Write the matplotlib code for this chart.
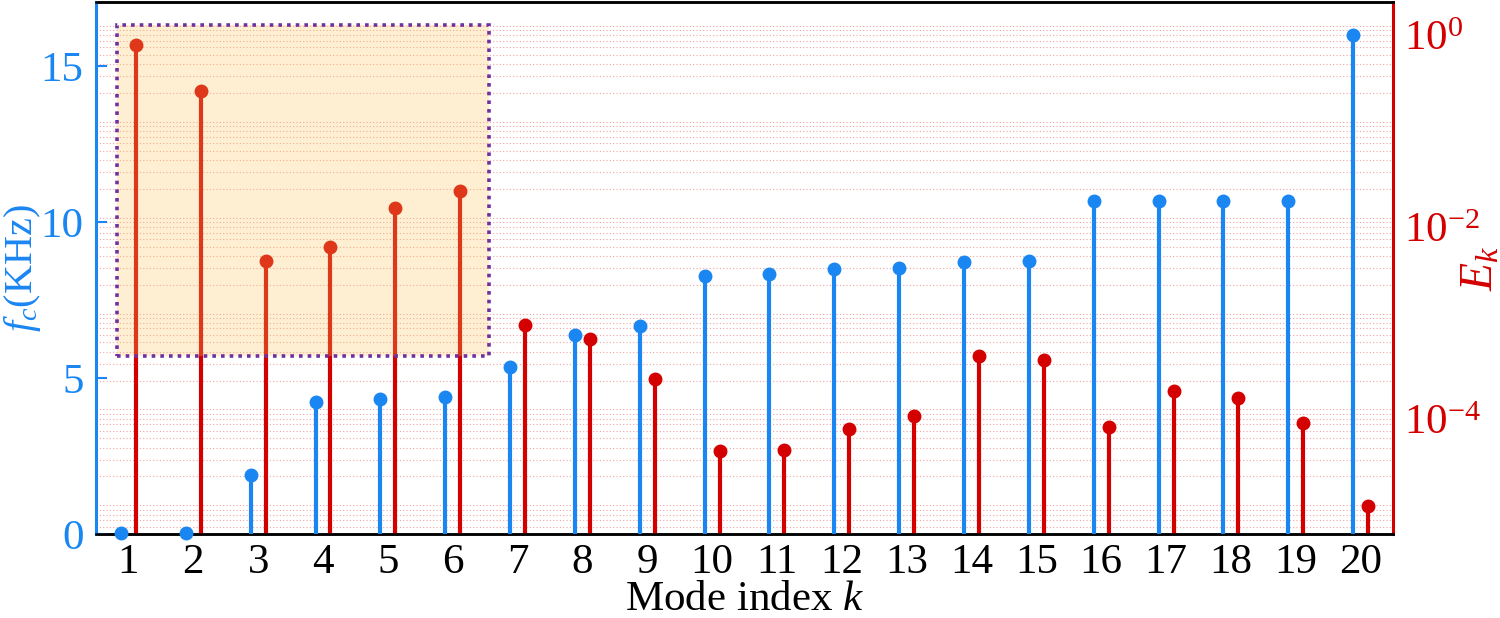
import numpy as np
import matplotlib
matplotlib.use('agg')
import matplotlib.pyplot as plt
import matplotlib.transforms as mtransforms
from matplotlib.patches import Rectangle
from matplotlib.ticker import LogLocator, NullFormatter, FixedLocator

plt.rcParams['font.family'] = ['Liberation Serif', 'DejaVu Serif']
plt.rcParams['mathtext.fontset'] = 'custom'
plt.rcParams['mathtext.rm'] = 'Liberation Serif'
plt.rcParams['mathtext.it'] = 'Liberation Serif:italic'

# data
modes = np.arange(1, 21)
fc_khz = [0.02, 0.04, 1.9, 4.22, 4.34, 4.38, 5.35, 6.38, 6.68, 8.27,
          8.34, 8.51, 8.55, 8.72, 8.75, 10.67, 10.69, 10.69, 10.69, 16.0]
energy = [0.63, 0.21, 3.5e-3, 4.9e-3, 1.27e-2, 1.9e-2, 7.6e-4, 5.4e-4, 2.1e-4, 3.7e-5,
          3.8e-5, 6.3e-5, 8.5e-5, 3.6e-4, 3.3e-4, 6.5e-5, 1.55e-4, 1.3e-4, 7.2e-5, 9.8e-6]
right_ticks = [1e-5, 1e-4, 1e-3, 1e-2, 1e-1, 1e0]
right_labels = ['', '$10^{-4}$', '', '$10^{-2}$', '', '$10^{0}$']

blue = '#1a86f2'
red = '#d40000'
offset = 0.115
fs = 31

fig = plt.figure(figsize=(15, 6.18), dpi=100)
ax2 = fig.add_axes([0.064, 0.1359, 0.8647, 0.8609])
ax1 = ax2.twinx()
ax1.yaxis.tick_left()
ax1.yaxis.set_label_position('left')
ax2.yaxis.tick_right()
ax2.yaxis.set_label_position('right')
ax1.set_zorder(ax2.get_zorder() + 1)
ax1.patch.set_visible(False)

# right axis: energy, log scale
ax2.set_yscale('log')
ax2.set_ylim(10 ** -5.30, 10 ** 0.25)
ax2.yaxis.set_major_locator(FixedLocator(right_ticks))
ax2.set_yticklabels(right_labels)
ax2.yaxis.set_minor_locator(LogLocator(base=10, subs=np.arange(2, 10), numticks=100))
ax2.yaxis.set_minor_formatter(NullFormatter())
ax2.grid(True, which='both', axis='y', color='#f3a3a3', linestyle=(0, (1, 2)), linewidth=0.8)
ax2.tick_params(axis='y', which='both', length=0, labelsize=fs, labelcolor=red, pad=8)
shift = mtransforms.ScaledTranslation(0, -7 / 72, fig.dpi_scale_trans)
for lab in ax2.get_yticklabels():
    lab.set_transform(lab.get_transform() + shift)
ax2.vlines(modes + offset, 1e-7, energy, color=red, linewidth=3.0, zorder=3)
ax2.plot(modes + offset, energy, 'o', color=red, markersize=9, zorder=4)
ax2.set_ylabel('$E_k$', color=red, fontsize=fs + 2)
ax2.yaxis.set_label_coords(1.052, 0.5)

# left axis: cut-off frequency
ax1.set_ylim(0, 17.07)
ax1.set_yticks([0, 5, 10, 15])
ax1.tick_params(axis='y', direction='in', length=8, width=1.5, color=blue,
                labelsize=fs, labelcolor=blue, pad=9)
ax1.vlines(modes - offset, 0, fc_khz, color=blue, linewidth=3.0, zorder=3)
ax1.plot(modes - offset, fc_khz, 'o', color=blue, markersize=9, zorder=4, clip_on=False)
ax1.set_ylabel('$f_c$(KHz)', color=blue, fontsize=fs - 2)
ax1.yaxis.set_label_coords(-0.0405, 0.5)

# highlight box over the first six modes
box = Rectangle((0.82, 5.72), 6.56 - 0.82, 16.33 - 5.72, facecolor='#fcc860', alpha=0.28,
                edgecolor='none', zorder=5)
ax1.add_patch(box)
border = Rectangle((0.82, 5.72), 6.56 - 0.82, 16.33 - 5.72, facecolor='none',
                   edgecolor='#7030a0', linewidth=2.6, linestyle=(0, (1, 1.4)), zorder=6)
ax1.add_patch(border)

# x axis
ax2.set_xlim(0.5, 20.5)
ax2.set_xticks(modes)
ax2.tick_params(axis='x', length=0, labelsize=fs, pad=7)
ax2.set_xlabel('Mode index $k$', fontsize=fs)
ax2.xaxis.set_label_coords(0.5, -0.088)
ax1.tick_params(axis='x', length=0)

# spines
for ax in (ax1, ax2):
    ax.spines['top'].set_color('black')
    ax.spines['bottom'].set_color('black')
    ax.spines['top'].set_linewidth(1.8)
    ax.spines['bottom'].set_linewidth(1.8)
ax1.spines['right'].set_visible(False)
ax1.spines['left'].set_color(blue)
ax1.spines['left'].set_linewidth(2.2)
ax2.spines['left'].set_visible(False)
ax2.spines['right'].set_color(red)
ax2.spines['right'].set_linewidth(2.2)

fig.savefig('out.png', dpi=100)
